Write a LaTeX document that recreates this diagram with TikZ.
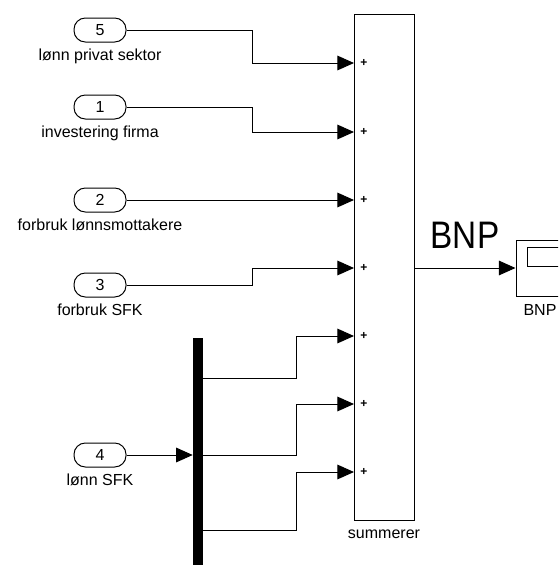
\documentclass[tikz,border=0pt]{standalone}
\usepackage{fontspec}
\setmainfont{Liberation Sans}
\usetikzlibrary{arrows.meta,positioning,calc}
\tikzset{
  >={Triangle[length=12.5pt, width=11pt]},
  inport/.style={draw, line width=0.75pt, rounded corners=8.5pt,
    minimum width=39pt, minimum height=18pt, inner sep=0pt},
  inlabel/.style={font=\fontsize{12}{14}\selectfont, inner sep=1pt},
  sumblk/.style={draw, line width=0.75pt, minimum width=45pt,
    minimum height=380pt, inner sep=0pt},
  demuxbar/.style={fill=black, minimum width=7.5pt, minimum height=183pt,
    inner sep=0pt},
  scopeblk/.style={draw, line width=0.75pt, minimum width=36pt,
    minimum height=42pt, inner sep=0pt},
  plussign/.style={font=\fontsize{9}{9}\selectfont\bfseries, inner sep=0pt},
  signal/.style={->, line width=0.75pt}
}
\begin{document}
\begin{tikzpicture}[x=0.75pt, y=-0.75pt, font=\fontsize{12}{14}\selectfont,
    label distance=3.5pt]
  \clip (0,0) rectangle (558,565);

  % summation block with seven inputs
  \node[sumblk] (sum) at (384,267.5) {};
  \node[inlabel, below=5pt of sum] (sumname) {summerer};
  \foreach \i/\y in {1/63,2/132,3/200,4/268,5/336,6/404,7/472}{
    \coordinate (p\i) at (354,\y);
    \node[plussign] at (364,\y) {+};
  }

  % inports
  \node[inport, label={[inlabel]below:lønn privat sektor}] (in5) at (100,30) {5};
  \node[inport, label={[inlabel]below:investering firma}] (in1) at (100,107) {1};
  \node[inport, label={[inlabel]below:forbruk lønnsmottakere}] (in2) at (100,200) {2};
  \node[inport, label={[inlabel]below:forbruk SFK}] (in3) at (100,285) {3};
  \node[inport, label={[inlabel]below:lønn SFK}] (in4) at (100,455) {4};

  % demux
  \node[demuxbar] (demux) at (198,460) {};
  \coordinate (d1) at (203,378);
  \coordinate (d2) at (203,455);
  \coordinate (d3) at (203,530);

  % scope
  \node[scopeblk] (scope) at (540,268) {};
  \node[draw, line width=0.75pt, minimum width=45pt, minimum height=14.5pt,
    inner sep=0pt] (screen) at (557,257) {};
  \node[inlabel, below=5pt of scope] (scopename) {BNP};

  \draw[signal] (in5.east) -- ++(126,0) |- (p1);
  \draw[signal] (in1.east) -- ++(126,0) |- (p2);
  \draw[signal] (in2.east) -- (p3);
  \draw[signal] (in3.east) -- ++(126,0) |- (p4);
  \draw[signal] (in4.east) -- (demux.west |- in4.east);
  \draw[signal] (d1) -- ++(93,0) |- (p5);
  \draw[signal] (d2) -- ++(93,0) |- (p6);
  \draw[signal] (d3) -- ++(93,0) |- (p7);
  \draw[signal] (sum.east |- p4) -- node[above=10pt, font=\fontsize{25}{25}\selectfont,
    yscale=1.15] {BNP} (scope.west);
\end{tikzpicture}
\end{document}
